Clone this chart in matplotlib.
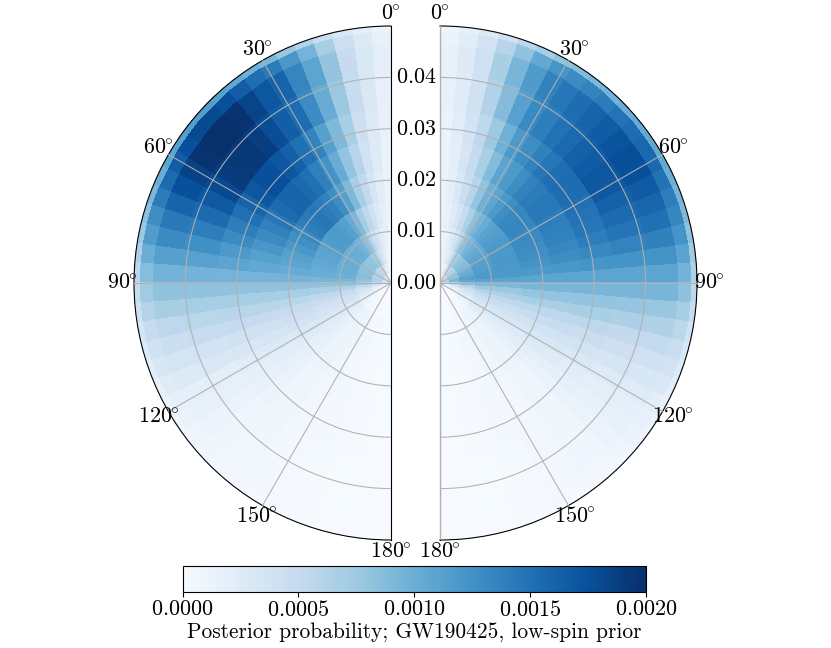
import numpy as np
import matplotlib
matplotlib.use("Agg")
import matplotlib.pyplot as plt

plt.rcParams['font.family'] = ['cmr10', 'DejaVu Serif']
plt.rcParams['mathtext.fontset'] = 'cm'
plt.rcParams['axes.formatter.use_mathtext'] = True
plt.rcParams['axes.unicode_minus'] = False

theta_edges_deg = [0, 4.5, 9, 13.5, 18, 22.5, 27, 31.5, 36, 40.5, 45, 49.5, 54, 58.5, 63, 67.5, 72, 76.5,
                   81, 85.5, 90, 94.5, 99, 103.5, 108, 112.5, 117, 121.5, 126, 130.5, 135, 144, 153, 162, 171, 180]
r_edges = [0, .002, .004, .007, .011, .016, .022, .028, .034, .041, .0465, .049, .05]

# posterior probability in units of 1e-4; rows = tilt bins, columns = radial bins
left_values = [
    [.2, .5, .8, 1.0, 1.1, 1.3, 1.4, 1.5, 1.7, 1.8, 1.6, 1.1],
    [.3, .8, 1.2, 1.5, 1.8, 2.2, 2.5, 2.7, 2.9, 3.0, 2.7, 1.8],
    [.4, 1.1, 1.8, 2.2, 2.7, 3.5, 3.9, 4.3, 4.8, 5.0, 4.4, 3.0],
    [.6, 1.6, 2.6, 3.2, 4.1, 5.3, 6.0, 6.8, 7.6, 8.0, 7.0, 4.6],
    [.9, 2.2, 3.5, 4.3, 5.4, 7.0, 8.0, 9.0, 10.2, 10.8, 9.5, 6.2],
    [1.3, 3.0, 4.7, 5.8, 7.1, 9.0, 10.2, 11.3, 12.9, 13.5, 12.0, 7.8],
    [1.8, 3.9, 6.0, 7.5, 9.0, 11.2, 12.4, 13.6, 15.3, 16.0, 14.2, 9.2],
    [2.2, 4.6, 6.9, 8.5, 10.2, 12.8, 13.9, 15.0, 16.4, 17.0, 15.2, 9.8],
    [2.6, 5.2, 7.5, 9.3, 11.1, 13.8, 15.0, 16.2, 17.8, 18.5, 16.5, 10.6],
    [2.9, 5.6, 8.0, 9.8, 11.6, 14.2, 15.6, 17.0, 18.9, 19.7, 17.5, 11.2],
    [3.1, 5.9, 8.1, 10.0, 11.8, 14.5, 16.0, 17.5, 19.3, 20.0, 18.0, 11.5],
    [3.2, 6.0, 8.2, 10.0, 11.7, 14.3, 15.9, 17.5, 19.2, 20.0, 18.0, 11.5],
    [3.3, 6.0, 8.2, 10.0, 11.6, 14.0, 15.5, 17.0, 19.0, 19.7, 17.5, 11.3],
    [3.5, 6.2, 8.2, 10.0, 11.3, 13.2, 14.6, 16.0, 18.0, 18.7, 16.5, 10.8],
    [3.6, 6.3, 8.3, 10.0, 11.0, 12.6, 13.8, 15.0, 16.8, 17.5, 15.5, 10.0],
    [3.8, 6.4, 8.4, 10.0, 10.8, 12.0, 13.0, 14.0, 15.4, 16.0, 14.2, 9.2],
    [4.0, 6.5, 8.5, 10.0, 10.5, 11.3, 12.1, 13.0, 14.0, 14.4, 12.8, 8.4],
    [4.2, 6.6, 8.6, 10.0, 10.3, 10.8, 11.3, 11.8, 12.6, 13.0, 11.6, 7.6],
    [4.3, 6.6, 8.5, 9.8, 10.0, 10.3, 10.5, 10.8, 11.1, 11.3, 10.0, 6.6],
    [4.1, 6.3, 8.0, 9.2, 9.3, 9.5, 9.5, 9.5, 9.6, 9.6, 8.6, 5.7],
    [3.5, 5.4, 7.0, 8.0, 8.1, 8.2, 8.2, 8.2, 8.2, 8.2, 7.3, 4.9],
    [2.6, 4.2, 5.5, 6.5, 6.7, 7.0, 7.0, 7.0, 7.0, 6.9, 6.1, 4.1],
    [1.9, 3.2, 4.3, 5.3, 5.5, 5.8, 5.9, 5.9, 5.8, 5.6, 5.0, 3.4],
    [1.4, 2.5, 3.5, 4.5, 4.7, 5.0, 5.0, 5.0, 4.8, 4.6, 4.1, 2.8],
    [1.0, 1.9, 2.9, 3.9, 4.1, 4.3, 4.2, 4.0, 3.8, 3.6, 3.2, 2.2],
    [.7, 1.5, 2.4, 3.4, 3.5, 3.7, 3.4, 3.1, 2.9, 2.7, 2.4, 1.6],
    [.5, 1.1, 1.9, 2.9, 3.0, 3.0, 2.7, 2.4, 2.1, 1.9, 1.7, 1.2],
    [.35, .8, 1.5, 2.4, 2.4, 2.4, 2.2, 1.9, 1.7, 1.5, 1.3, .9],
    [.25, .6, 1.2, 2.0, 2.0, 1.9, 1.7, 1.5, 1.3, 1.2, 1.0, .7],
    [.15, .45, .9, 1.6, 1.6, 1.5, 1.4, 1.2, 1.0, .9, .8, .55],
    [.1, .3, .7, 1.2, 1.2, 1.1, 1.0, .9, .8, .7, .6, .4],
    [.07, .2, .5, .9, .9, .8, .7, .6, .5, .45, .4, .3],
    [.05, .15, .3, .6, .6, .5, .45, .4, .35, .3, .25, .2],
    [.03, .1, .2, .4, .35, .3, .28, .25, .22, .2, .15, .1],
    [.02, .05, .1, .2, .2, .2, .17, .15, .12, .1, .08, .06],
]
right_values = [
    [.2, .5, .8, 1.0, 1.1, 1.2, 1.3, 1.4, 1.5, 1.6, 1.4, 1.0],
    [.3, .7, 1.1, 1.4, 1.6, 1.9, 2.1, 2.3, 2.4, 2.5, 2.2, 1.5],
    [.4, 1.0, 1.5, 1.9, 2.4, 3.0, 3.4, 3.8, 4.0, 4.2, 3.7, 2.5],
    [.6, 1.4, 2.1, 2.6, 3.5, 4.5, 5.0, 5.5, 6.3, 6.8, 6.0, 4.1],
    [.9, 2.0, 3.0, 3.8, 4.8, 6.0, 6.8, 7.5, 8.7, 9.3, 8.2, 5.6],
    [1.5, 3.0, 4.4, 5.5, 6.6, 8.0, 8.9, 9.8, 11.1, 11.7, 10.4, 7.0],
    [2.2, 4.2, 5.8, 7.2, 8.3, 9.8, 10.8, 11.8, 13.1, 13.7, 12.2, 8.2],
    [2.8, 5.0, 6.7, 8.3, 9.3, 10.8, 11.8, 12.8, 14.0, 14.5, 12.9, 8.7],
    [3.3, 5.6, 7.5, 9.2, 10.2, 11.8, 12.8, 13.8, 14.9, 15.3, 13.6, 9.2],
    [3.7, 6.0, 8.0, 9.8, 11.0, 12.7, 13.7, 14.6, 15.6, 16.0, 14.2, 9.6],
    [4.0, 6.4, 8.4, 10.2, 11.4, 13.2, 14.2, 15.1, 16.2, 16.6, 14.8, 10.0],
    [4.3, 6.7, 8.6, 10.5, 11.6, 13.4, 14.4, 15.3, 16.6, 17.2, 15.3, 10.3],
    [4.7, 7.0, 8.9, 10.8, 11.8, 13.4, 14.4, 15.3, 17.0, 17.6, 15.7, 10.6],
    [5.0, 7.3, 9.2, 11.0, 11.8, 13.1, 14.0, 15.0, 16.8, 17.5, 15.6, 10.5],
    [5.3, 7.7, 9.6, 11.2, 11.9, 13.0, 13.9, 14.8, 16.1, 16.7, 14.9, 10.0],
    [5.7, 8.1, 10.0, 11.4, 12.0, 12.8, 13.7, 14.5, 15.4, 15.8, 14.0, 9.5],
    [6.2, 8.7, 10.4, 11.5, 12.0, 12.6, 13.3, 14.0, 14.7, 15.0, 13.4, 9.0],
    [6.5, 9.2, 10.9, 11.7, 11.9, 12.3, 12.8, 13.2, 13.6, 13.8, 12.3, 8.3],
    [6.6, 9.4, 11.1, 11.8, 11.8, 11.8, 12.0, 12.2, 12.3, 12.4, 11.0, 7.4],
    [6.0, 8.8, 10.4, 11.0, 10.9, 10.8, 10.8, 10.8, 10.8, 10.8, 9.6, 6.5],
    [4.5, 6.9, 8.3, 9.0, 9.1, 9.3, 9.3, 9.3, 9.3, 9.3, 8.3, 5.6],
    [3.0, 5.0, 6.4, 7.5, 7.7, 8.0, 8.0, 8.0, 7.9, 7.8, 7.0, 4.7],
    [2.0, 3.6, 5.0, 6.2, 6.5, 6.8, 6.8, 6.8, 6.6, 6.4, 5.7, 3.9],
    [1.4, 2.7, 4.0, 5.2, 5.4, 5.6, 5.6, 5.6, 5.3, 5.1, 4.6, 3.2],
    [1.0, 2.0, 3.2, 4.3, 4.5, 4.7, 4.7, 4.6, 4.3, 4.1, 3.7, 2.6],
    [.7, 1.5, 2.5, 3.6, 3.8, 3.9, 3.9, 3.7, 3.4, 3.2, 2.9, 2.0],
    [.5, 1.1, 2.0, 3.0, 3.2, 3.2, 3.1, 2.9, 2.6, 2.4, 2.1, 1.5],
    [.35, .8, 1.6, 2.5, 2.6, 2.6, 2.5, 2.3, 2.1, 1.9, 1.7, 1.2],
    [.25, .6, 1.2, 2.0, 2.1, 2.0, 1.9, 1.8, 1.6, 1.5, 1.3, .9],
    [.15, .45, .9, 1.5, 1.6, 1.5, 1.4, 1.3, 1.2, 1.1, .9, .65],
    [.1, .3, .65, 1.1, 1.1, 1.1, 1.0, .9, .8, .75, .65, .45],
    [.07, .2, .45, .8, .8, .75, .7, .6, .55, .5, .4, .3],
    [.05, .15, .3, .55, .55, .5, .45, .4, .35, .3, .25, .2],
    [.03, .1, .2, .35, .35, .3, .28, .25, .22, .2, .15, .1],
    [.02, .05, .1, .2, .2, .18, .16, .14, .12, .1, .08, .06],
]
r_ticks = [0.00, 0.01, 0.02, 0.03, 0.04]
theta_ticks = [0, 30, 60, 90, 120, 150, 180]
cbar_ticks = [0.0000, 0.0005, 0.0010, 0.0015, 0.0020]
cbar_label = "Posterior probability; GW190425, low-spin prior"

W, H = 831, 648
FS = 15.4
TS = 15.9
fig = plt.figure(figsize=(W / 100, H / 100), dpi=100)


def box(x0, y0, x1, y1):
    return [x0 / W, 1 - y1 / H, (x1 - x0) / W, (y1 - y0) / H]


th = np.radians(theta_edges_deg)
rr = np.array(r_edges)


def panel(rect, values, direction, rlabels):
    ax = fig.add_axes(rect, projection='polar')
    ax.set_theta_zero_location('N')
    ax.set_theta_direction(direction)
    mesh = ax.pcolormesh(th, rr, np.array(values).T * 1e-4, cmap='Blues', vmin=0, vmax=0.002,
                         shading='flat', edgecolors='face', linewidth=0.1)
    ax.set_thetamin(0)
    ax.set_thetamax(180)
    ax.set_ylim(0, 0.05)
    ax.set_yticks(r_ticks)
    ax.set_xticks(np.radians(theta_ticks))
    ax.set_xticklabels([rf'${t}^{{\!\!\circ}}$' for t in theta_ticks])
    ax.tick_params(axis='x', labelsize=TS, pad=-2)
    if rlabels:
        ax.set_yticklabels([f'${t:.2f}$' for t in r_ticks])
    else:
        ax.set_yticklabels([])
    ax.set_rlabel_position(0)
    ax.set_axisbelow(False)
    ax.grid(True, color='#b0b0b0', lw=0.75)
    ax.tick_params(axis='y', length=0, labelsize=TS, pad=3.5)
    for s in ax.spines.values():
        s.set_linewidth(0.8)
    return ax, mesh


# the half-disc is centred inside a square box twice as wide as the wedge
axL, mesh = panel(box(5.5, 26, 519.5, 540), left_values, 1, True)
axR, _ = panel(box(311.5, 26, 825.5, 540), right_values, -1, False)

cax = fig.add_axes(box(182.5, 566, 646, 592))
cb = fig.colorbar(mesh, cax=cax, orientation='horizontal')
cb.set_ticks(cbar_ticks)
cb.set_ticklabels([f'${t:.4f}$' for t in cbar_ticks])
cb.ax.tick_params(length=3.5, width=0.8, pad=2, labelsize=TS)
cb.set_label(cbar_label, fontsize=FS, labelpad=2.5)
cb.outline.set_linewidth(0.8)

fig.savefig('out.png', dpi=100)
